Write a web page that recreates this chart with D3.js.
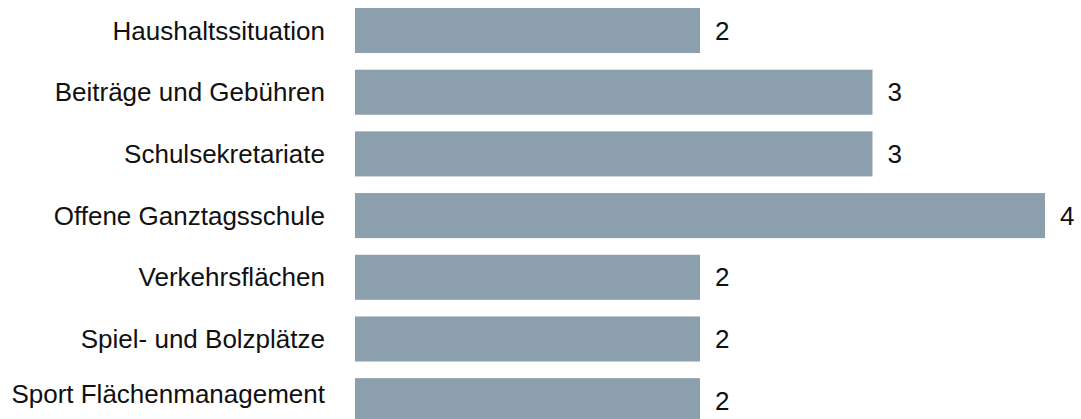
<!DOCTYPE html>
<html>
<head>
<meta charset="utf-8">
<script src="https://cdn.jsdelivr.net/npm/d3@7"></script>
<style>
html,body{margin:0;padding:0;background:#fff;}
svg{display:block;}
</style>
</head>
<body>
<svg id="chart" width="1081" height="419"></svg>
<script>
const categories = ["Haushaltssituation","Beiträge und Gebühren","Schulsekretariate","Offene Ganztagsschule","Verkehrsflächen","Spiel- und Bolzplätze","Sport Flächenmanagement"];
const values = [2,3,3,4,2,2,2];

const W = 1081, H = 419;
const svg = d3.select("#chart");
const x = d3.scaleLinear().domain([0,4]).range([355,1045]);
const y = d3.scaleBand().domain(categories).range([8, 423.2]).paddingInner(0.27).paddingOuter(0);

svg.selectAll("rect.bar").data(categories).join("rect")
  .attr("class","bar")
  .attr("x", x(0))
  .attr("y", d => y(d))
  .attr("width", (d,i) => x(values[i]) - x(0))
  .attr("height", y.bandwidth())
  .attr("fill", "#8b9fac");

const fs = 26;
svg.selectAll("text.cat").data(categories).join("text")
  .attr("class","cat")
  .attr("x", 325)
  .attr("y", d => Math.min(y(d) + y.bandwidth()/2, H - 25))
  .attr("dy", "0.35em")
  .attr("text-anchor","end")
  .attr("font-family","Liberation Sans, Arial, sans-serif")
  .attr("font-size", fs + "px")
  .attr("fill","#111")
  .text(d => d);

svg.selectAll("text.val").data(categories).join("text")
  .attr("class","val")
  .attr("x", (d,i) => x(values[i]) + 15)
  .attr("y", d => Math.min(y(d) + y.bandwidth()/2, H - 17))
  .attr("dy", "0.35em")
  .attr("font-family","Liberation Sans, Arial, sans-serif")
  .attr("font-size", fs + "px")
  .attr("fill","#111")
  .text((d,i) => values[i]);
</script>
</body>
</html>
